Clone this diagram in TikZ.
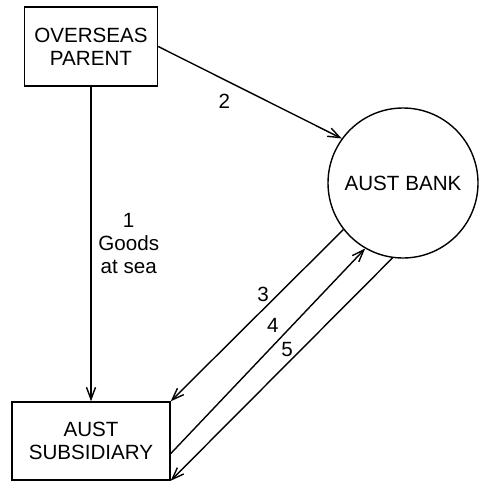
\documentclass[tikz,border=0pt]{standalone}
\usepackage{fontspec}
\setmainfont{Liberation Sans}
\usetikzlibrary{arrows.meta}

\begin{document}
\begin{tikzpicture}[x=0.5pt, y=-0.5pt, line width=0.7pt,
	font=\fontsize{10.3}{11.5}\selectfont,
	>={Straight Barb[length=6pt,width=4.5pt]},
	entity/.style={draw, rectangle, align=center, minimum width=#1, minimum height=39.5pt},
	bankcircle/.style={draw, circle, minimum size=75pt, inner sep=0pt}]
	\useasboundingbox (0,0) rectangle (479,481);

	\node[entity=66.5pt] (P) at (91,46.5) {OVERSEAS\\PARENT};
	\node[entity=79pt, minimum height=39pt] (S) at (91,441) {AUST\\SUBSIDIARY};
	\node[bankcircle] (B) at (403,183) {AUST BANK};
	
	
	\draw[->] (P) -- node[right, align=center]{1\\Goods\\at sea} (S);
	\draw[->] (P.east) -- node[pos=0.36, below=3.4pt]{2} (B.144);
	\draw[->] (B.218) -- node[pos=0.465, above]{3} (S.north east);
	\draw[->] (S.-9) -- node[pos=0.525, above=3pt]{4} (B.240);
	\draw[->] (B.262) -- node[pos=0.475, above]{5} (S.south east);
\end{tikzpicture}
\end{document}
